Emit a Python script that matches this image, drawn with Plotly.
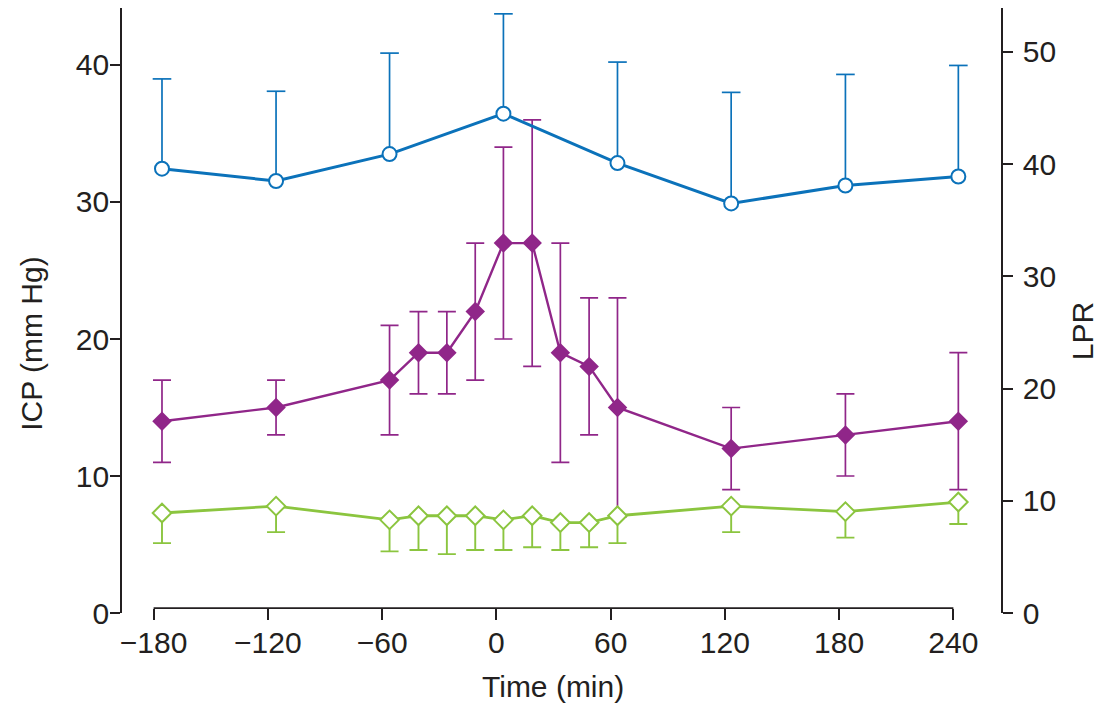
import plotly.graph_objects as go

# Data
time_icp = [-175.6, -115.7, -56.1, -40.9, -26.0, -11.1, 3.7, 18.8, 33.6, 48.7, 63.6, 123.3, 183.3, 242.6]
icp = [14, 15, 17, 19, 19, 22, 27, 27, 19, 18, 15, 12, 13, 14]
icp_sd = [3, 2, 4, 3, 3, 5, 7, 9, 8, 5, 8, 3, 3, 5]

icp_low = [7.3, 7.8, 6.8, 7.1, 7.1, 7.1, 6.8, 7.1, 6.6, 6.6, 7.1, 7.8, 7.4, 8.1]
icp_low_sd = [2.2, 1.9, 2.3, 2.5, 2.8, 2.5, 2.2, 2.3, 2.0, 1.8, 2.0, 1.9, 1.9, 1.6]

time_lpr = [-175.6, -115.7, -56.1, 3.7, 63.6, 123.3, 183.3, 242.6]
lpr = [39.6, 38.5, 40.9, 44.5, 40.1, 36.5, 38.1, 38.9]
lpr_sd = [8.0, 8.0, 9.0, 8.9, 9.0, 9.9, 9.9, 9.9]

x_ticks = [-180, -120, -60, 0, 60, 120, 180, 240]
icp_ticks = [0, 10, 20, 30, 40]
lpr_ticks = [0, 10, 20, 30, 40, 50]

BLUE = "#0B72BA"
PURPLE = "#902689"
GREEN = "#8BC53F"
INK = "#231F20"
FONT = "Liberation Sans"
FS = 30

fig = go.Figure()

# purple ICP, symmetric SD
fig.add_trace(go.Scatter(
    x=time_icp, y=icp, mode="lines+markers", name="ICP",
    line=dict(color=PURPLE, width=2.4),
    marker=dict(symbol="diamond", size=15, color=PURPLE),
    error_y=dict(type="data", array=icp_sd, color=PURPLE, thickness=1.7, width=9),
    cliponaxis=False, showlegend=False,
))

# green, downward SD only
fig.add_trace(go.Scatter(
    x=time_icp, y=icp_low, mode="lines+markers", name="ICP low",
    line=dict(color=GREEN, width=2.8),
    marker=dict(symbol="diamond", size=14.3, color="white", line=dict(color=GREEN, width=2)),
    error_y=dict(type="data", symmetric=False, array=[0] * len(icp_low_sd),
                 arrayminus=icp_low_sd, color=GREEN, thickness=1.9, width=9),
    cliponaxis=False, showlegend=False,
))

# blue LPR on the right axis, upward SD only
fig.add_trace(go.Scatter(
    x=time_lpr, y=lpr, mode="lines+markers", name="LPR", yaxis="y2",
    line=dict(color=BLUE, width=3),
    marker=dict(symbol="circle", size=14, color="white", line=dict(color=BLUE, width=2)),
    error_y=dict(type="data", symmetric=False, array=lpr_sd,
                 arrayminus=[0] * len(lpr_sd), color=BLUE, thickness=1.7, width=0),
    cliponaxis=False, showlegend=False,
))
# caps on top of the LPR bars
fig.add_trace(go.Scatter(
    x=time_lpr, y=[v + e for v, e in zip(lpr, lpr_sd)], mode="markers", yaxis="y2",
    marker=dict(symbol="line-ew", size=13.3, line=dict(color=BLUE, width=1.7)),
    hoverinfo="skip", cliponaxis=False, showlegend=False,
))

axis_style = dict(
    showgrid=False, zeroline=False, ticks="outside", tickwidth=1.6,
    tickcolor=INK, linecolor=INK, linewidth=1.6,
    tickfont=dict(family=FONT, size=FS, color=INK),
)

# page body has an 8px margin, so the figure is a bit smaller than the window
fig.update_layout(
    width=1107, height=708,
    margin=dict(l=114, r=114, t=0, b=103),
    paper_bgcolor="white", plot_bgcolor="white",
    font=dict(family=FONT, size=FS, color=INK),
    xaxis=dict(
        range=[-196.6, 265.0], tickvals=x_ticks, showline=False, ticklen=11,
        anchor="free", position=0.008, ticklabelstandoff=-3, **axis_style,
    ),
    yaxis=dict(range=[0, 44.16], tickvals=icp_ticks, showline=True, ticklen=10,
               ticklabelstandoff=-5, **axis_style),
    yaxis2=dict(range=[0, 53.92], tickvals=lpr_ticks, showline=True, ticklen=10,
                overlaying="y", side="right", ticklabelstandoff=4, **axis_style),
    shapes=[dict(type="line", xref="x", yref="paper", x0=-180, x1=240, y0=0.008, y1=0.008,
                 line=dict(color=INK, width=1.6))],
    annotations=[
        dict(text="ICP (mm Hg)", xref="paper", yref="paper", x=-0.1024, y=0.445,
             xanchor="center", yanchor="middle", textangle=-90, showarrow=False,
             font=dict(family=FONT, size=FS, color=INK)),
        dict(text="LPR", xref="paper", yref="paper", x=1.0928, y=0.465,
             xanchor="center", yanchor="middle", textangle=-90, showarrow=False,
             font=dict(family=FONT, size=FS, color=INK)),
        dict(text="Time (min)", xref="paper", yref="paper", x=0.4903, y=-0.122,
             xanchor="center", yanchor="middle", showarrow=False,
             font=dict(family=FONT, size=FS, color=INK)),
    ],
)

fig.write_html("out.html")
